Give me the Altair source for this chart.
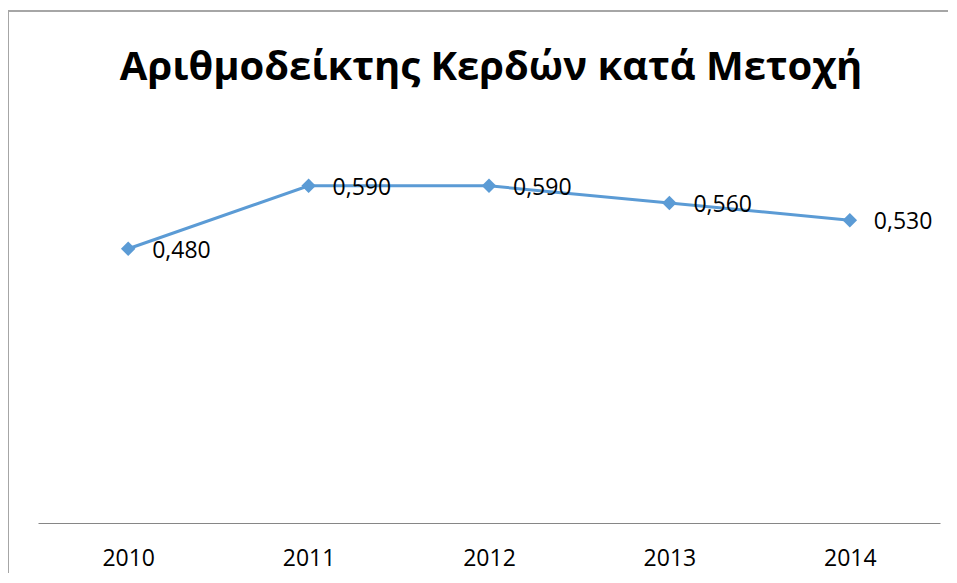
import altair as alt
import pandas as pd

years = ["2010", "2011", "2012", "2013", "2014"]
eps = [0.48, 0.59, 0.59, 0.56, 0.53]
title_text = "Αριθμοδείκτης Κερδών κατά Μετοχή"

df = pd.DataFrame({"year": years, "eps": eps})
df["label"] = [f"{v:.3f}".replace(".", ",") for v in eps]

FONT = "Open Sans"
BLUE = "#5b9bd5"

x = alt.X("year:O", sort=years, scale=alt.Scale(type="point", padding=0.5),
          axis=alt.Axis(title=None, labelAngle=0, ticks=False, grid=False,
                        domainColor="#868686", domainWidth=1,
                        labelFontSize=23, labelFont=FONT, labelColor="#000000",
                        labelPadding=24))
y = alt.Y("eps:Q", scale=alt.Scale(domain=[0, 0.7], nice=False, zero=True), axis=None)

base = alt.Chart(df)

frame_top = base.mark_rule(stroke="#a6a6a6", strokeWidth=1.5, clip=False).encode(
    x=alt.value(-30), x2=alt.value(1100), y=alt.value(-112)
)
frame_left = base.mark_rule(stroke="#a6a6a6", strokeWidth=1.5, clip=False).encode(
    x=alt.value(-30), y=alt.value(-112), y2=alt.value(700)
)

line = base.mark_line(color=BLUE, strokeWidth=3).encode(x=x, y=y)
pts = base.mark_point(shape="diamond", filled=True, size=210, color=BLUE, opacity=1).encode(x=x, y=y)
labels = base.mark_text(align="left", baseline="middle", dx=24, dy=2,
                        fontSize=23, font=FONT, color="#000000").encode(x=x, y=y, text="label:N")

title = alt.Chart(pd.DataFrame({"t": [title_text]})).mark_text(
    align="center", baseline="middle", fontSize=40, fontWeight="bold", font=FONT,
    color="#000000", clip=False
).encode(x=alt.value(453), y=alt.value(-55), text="t:N")

chart = alt.layer(frame_top, frame_left, line, pts, labels, title).properties(
    width=902, height=400,
    background="#ffffff",
    autosize=alt.AutoSizeParams(type="none"),
    padding={"left": 30, "top": 115, "right": 8, "bottom": 50},
).configure_view(strokeWidth=0, stroke=None)

chart.save("out.html", embed_options={"renderer": "svg", "actions": False})
